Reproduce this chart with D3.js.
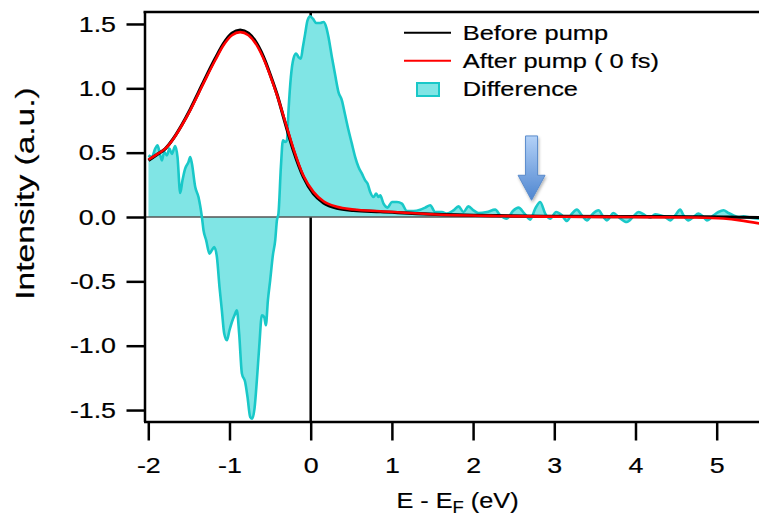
<!DOCTYPE html>
<html><head><meta charset="utf-8">
<script src="https://cdn.jsdelivr.net/npm/d3@7"></script>
<style>html,body{margin:0;padding:0;background:#fff;} svg{display:block;}</style>
</head><body>
<svg id="chart" width="759" height="518"></svg>
<script>
// ---------- data ----------
const energyDiff = [
 -1.998,-1.956,-1.915,-1.887,-1.862,-1.833,-1.804,-1.771,-1.739,-1.709,
 -1.669,-1.640,-1.607,-1.579,-1.546,-1.505,-1.484,-1.463,-1.422,-1.382,
 -1.340,-1.320,-1.287,-1.246,-1.217,-1.188,-1.155,-1.123,-1.094,-1.065,
 -1.032,-1.000,-0.970,-0.938,-0.909,-0.881,-0.847,-0.807,-0.778,-0.745,
 -0.720,-0.692,-0.663,-0.634,-0.601,-0.573,-0.552,-0.527,-0.499,-0.466,
 -0.437,-0.416,-0.397,-0.367,-0.342,-0.314,-0.293,-0.273,-0.244,-0.212,
 -0.179,-0.150,-0.121,-0.096,-0.068,-0.039,-0.006,0.027,0.068,0.117,
 0.158,0.191,0.219,0.261,0.302,0.342,0.384,0.425,0.466,0.507,
 0.548,0.589,0.631,0.671,0.700,0.733,0.773,0.807,0.835,0.856,
 0.897,0.946,1.000,1.062,1.123,1.185,1.266,1.349,1.410,1.472,
 1.533,1.616,1.677,1.759,1.820,1.882,1.943,2.005,2.067,2.170,
 2.272,2.334,2.416,2.490,2.559,2.633,2.703,2.765,2.826,2.888,
 2.949,3.023,3.094,3.155,3.217,3.278,3.340,3.401,3.475,3.544,
 3.606,3.648,3.729,3.791,3.894,3.975,4.037,4.119,4.181,4.243,
 4.304,4.366,4.427,4.489,4.550,4.591,4.653,4.714,4.776,4.837,
 4.879,4.961,5.022,5.084,5.145,5.207,5.268,5.330,5.413,5.523
];
const diffValues = [
 0.479,0.466,0.531,0.557,0.505,0.440,0.505,0.479,0.531,0.490,
 0.552,0.466,0.186,0.285,0.376,0.427,0.466,0.415,0.233,0.155,
 0.000,-0.103,-0.181,-0.285,-0.259,-0.233,-0.311,-0.544,-0.725,-0.906,
 -0.958,-0.880,-0.816,-0.764,-0.725,-0.906,-1.217,-1.282,-1.399,-1.554,
 -1.567,-1.489,-1.269,-1.010,-0.764,-0.777,-0.841,-0.647,-0.492,-0.298,
 -0.181,-0.026,0.026,0.389,0.596,0.583,0.596,0.829,1.088,1.231,
 1.270,1.243,1.231,1.321,1.425,1.528,1.559,1.541,1.507,1.507,
 1.515,1.476,1.399,1.243,1.101,0.971,0.907,0.790,0.674,0.570,
 0.466,0.389,0.337,0.285,0.260,0.194,0.155,0.182,0.155,0.169,
 0.104,0.073,0.117,0.117,0.104,0.047,0.047,0.057,0.073,0.091,
 0.039,0.039,0.026,0.052,0.083,0.039,0.083,0.052,0.031,0.039,
 0.057,0.013,-0.013,0.047,0.073,0.026,-0.020,0.065,0.117,0.026,
 -0.013,0.039,0.013,-0.031,0.026,0.057,0.013,-0.026,0.026,0.052,
 0.000,-0.026,0.031,0.000,-0.039,0.005,0.039,0.013,-0.005,0.021,
 0.013,0.000,-0.026,0.013,0.057,0.013,-0.026,0.000,0.026,0.000,
 -0.026,0.013,0.039,0.052,0.031,0.013,0.000,0.005,-0.005,-0.013
];
const energyCurve = [
 -1.998,-1.894,-1.792,-1.690,-1.586,-1.484,-1.382,-1.278,-1.176,-1.074,
 -0.970,-0.868,-0.766,-0.663,-0.560,-0.499,-0.416,-0.314,-0.212,-0.089,
 0.034,0.158,0.323,0.527,0.856,1.472,2.293,3.113,3.935,4.756,
 5.084,5.289,5.523
];
const beforeValues = [
 0.440,0.485,0.530,0.611,0.717,0.836,0.968,1.104,1.231,1.348,
 1.428,1.453,1.428,1.348,1.212,1.107,0.955,0.730,0.515,0.310,
 0.180,0.110,0.068,0.051,0.041,0.022,0.010,0.005,0.003,0.002,
 0.000,-0.002,-0.004
];
const afterValues = [
 0.446,0.487,0.531,0.609,0.713,0.829,0.959,1.093,1.218,1.334,
 1.412,1.437,1.412,1.334,1.200,1.100,0.950,0.740,0.530,0.320,
 0.195,0.122,0.079,0.058,0.045,0.022,0.008,0.002,0.000,-0.004,
 -0.012,-0.026,-0.050
];
const xTickValues = [-2, -1, 0, 1, 2, 3, 4, 5];
const yTickValues = [-1.5, -1.0, -0.5, 0.0, 0.5, 1.0, 1.5];
const legendLabels = ["Before pump", "After pump ( 0 fs)", "Difference"];
const arrowEnergy = 2.72, arrowTipValue = 0.13, arrowTopValue = 0.63;

(function () {
// ---------- layout ----------
const pL = 144.5, pR = 759, pT = 12, pB = 421.5;
const font = "'Liberation Sans', Arial, Helvetica, sans-serif";
const cyanLine = "#19c8c8", cyanFill = "#80e5e5";
const textStroke = 0.2;

const svg = d3.select("#chart");
const x = d3.scaleLinear().domain([-2.059, 5.521]).range([pL - 1, pR]);
const y = d3.scaleLinear().domain([-1.589, 1.593]).range([pB, pT]);

const defs = svg.append("defs");
defs.append("clipPath").attr("id", "plotclip").append("rect")
  .attr("x", pL).attr("y", pT).attr("width", pR - pL).attr("height", pB - pT);
const grad = defs.append("linearGradient").attr("id", "arrowgrad")
  .attr("x1", 0).attr("y1", 0).attr("x2", 0).attr("y2", 1);
grad.append("stop").attr("offset", "0%").attr("stop-color", "#b3d1f7");
grad.append("stop").attr("offset", "100%").attr("stop-color", "#4f86d0");
const filt = defs.append("filter").attr("id", "shadow").attr("x", "-50%").attr("y", "-20%").attr("width", "200%").attr("height", "150%");
filt.append("feDropShadow").attr("dx", 1).attr("dy", 2).attr("stdDeviation", 1.5)
  .attr("flood-color", "#000").attr("flood-opacity", 0.3);

const plot = svg.append("g").attr("clip-path", "url(#plotclip)");

// vertical line at E = 0
plot.append("line")
  .attr("x1", x(0)).attr("x2", x(0)).attr("y1", pT).attr("y2", pB)
  .attr("stroke", "#000").attr("stroke-width", 2.5);

const diffData = energyDiff.map((e, i) => [e, diffValues[i]]);
const area = d3.area().x(d => x(d[0])).y0(y(0)).y1(d => y(d[1])).curve(d3.curveMonotoneX);
const line = d3.line().x(d => x(d[0])).y(d => y(d[1])).curve(d3.curveMonotoneX);

plot.append("path").datum(diffData).attr("d", area).attr("fill", cyanFill);

// zero line
plot.append("line")
  .attr("x1", pL).attr("x2", pR).attr("y1", y(0)).attr("y2", y(0))
  .attr("stroke", "#555").attr("stroke-width", 1.3);

plot.append("path").datum(diffData).attr("d", line)
  .attr("fill", "none").attr("stroke", cyanLine).attr("stroke-width", 2.6).attr("stroke-linejoin", "round");

const beforeData = energyCurve.map((e, i) => [e, beforeValues[i]]);
const afterData = energyCurve.map((e, i) => [e, afterValues[i]]);
plot.append("path").datum(beforeData).attr("d", line)
  .attr("fill", "none").attr("stroke", "#000").attr("stroke-width", 3.2);
plot.append("path").datum(afterData).attr("d", line)
  .attr("fill", "none").attr("stroke", "#ff0000").attr("stroke-width", 2.6);

// ---------- axes ----------
const tickSX = 1.19, tickFont = 22.5;
const gY = svg.append("g").attr("transform", `translate(${pL},0)`)
  .call(d3.axisLeft(y).tickValues(yTickValues).tickFormat(d => d.toFixed(1))
    .tickSize(18).tickSizeOuter(0).tickPadding(10));
const gX = svg.append("g").attr("transform", `translate(0,${pB})`)
  .call(d3.axisBottom(x).tickValues(xTickValues).tickFormat(d => String(d))
    .tickSize(19).tickSizeOuter(0).tickPadding(17));
[gY, gX].forEach(g => {
  g.select(".domain").attr("stroke", "#000").attr("stroke-width", 2.5);
  g.selectAll(".tick line").attr("stroke", "#000").attr("stroke-width", 2.5);
  g.selectAll(".tick text").attr("font-family", font).attr("font-size", tickFont).attr("fill", "#000")
    .attr("stroke", "#000").attr("stroke-width", textStroke);
});
gY.selectAll(".tick text").attr("x", -28.5 / tickSX).attr("transform", `scale(${tickSX},1)`);
gX.selectAll(".tick text").attr("transform", `scale(${tickSX},1)`);

// top frame line
svg.append("line").attr("x1", pL - 1).attr("x2", pR).attr("y1", pT).attr("y2", pT)
  .attr("stroke", "#000").attr("stroke-width", 2.5);

// ---------- titles ----------
svg.append("text")
  .attr("transform", "translate(33.5,193.5) rotate(-90) scale(1.29,1)")
  .attr("text-anchor", "middle").attr("font-family", font).attr("font-size", 26)
  .attr("stroke", "#000").attr("stroke-width", textStroke)
  .text("Intensity (a.u.)");

const xt = svg.append("text")
  .attr("transform", "translate(457.5,508) scale(1.15,1)")
  .attr("text-anchor", "middle").attr("font-family", font).attr("font-size", 22)
  .attr("stroke", "#000").attr("stroke-width", textStroke);
xt.append("tspan").text("E - E");
xt.append("tspan").attr("font-size", 16).attr("dy", 5).text("F");
xt.append("tspan").attr("dy", -5).text(" (eV)");

// ---------- arrow annotation ----------
const ax = x(arrowEnergy), aTip = y(arrowTipValue), aTop = y(arrowTopValue);
const aHead = aTip - 25;
svg.append("path")
  .attr("d", `M${ax-6},${aTop} L${ax+6},${aTop} L${ax+6},${aHead} L${ax+13.5},${aHead} L${ax},${aTip} L${ax-13.5},${aHead} L${ax-6},${aHead} Z`)
  .attr("fill", "url(#arrowgrad)").attr("stroke", "#5b8ccc").attr("stroke-width", 1)
  .attr("filter", "url(#shadow)");

// ---------- legend ----------
const legSX = 1.21;
const lg = svg.append("g");
lg.append("line").attr("x1", 404).attr("x2", 451).attr("y1", 32.7).attr("y2", 32.7)
  .attr("stroke", "#000").attr("stroke-width", 2);
lg.append("line").attr("x1", 404).attr("x2", 451).attr("y1", 60.7).attr("y2", 60.7)
  .attr("stroke", "#ff0000").attr("stroke-width", 2);
lg.append("rect").attr("x", 417).attr("y", 83).attr("width", 22).attr("height", 13)
  .attr("fill", cyanFill).attr("stroke", cyanLine).attr("stroke-width", 2);
const legBase = [40, 68.3, 95.5];
legendLabels.forEach((t, i) => {
  lg.append("text").attr("transform", `translate(462.7,${legBase[i]}) scale(${legSX},1)`)
    .attr("font-family", font).attr("font-size", 21).attr("fill", "#000")
    .attr("stroke", "#000").attr("stroke-width", textStroke).text(t);
});
})();
</script>
</body></html>
